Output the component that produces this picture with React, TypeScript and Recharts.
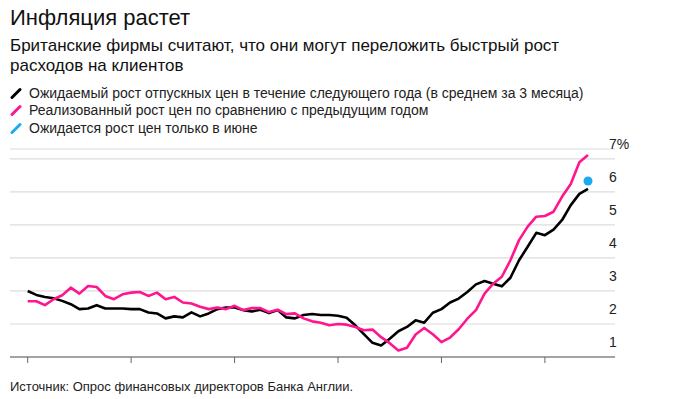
import { LineChart, Line, XAxis, YAxis, CartesianGrid } from 'recharts';

// месяцы: янв 2017 - июн 2022
const months = [
    '2017-01', '2017-02', '2017-03', '2017-04', '2017-05', '2017-06', '2017-07', '2017-08', '2017-09', '2017-10', '2017-11', '2017-12',
    '2018-01', '2018-02', '2018-03', '2018-04', '2018-05', '2018-06', '2018-07', '2018-08', '2018-09', '2018-10', '2018-11', '2018-12',
    '2019-01', '2019-02', '2019-03', '2019-04', '2019-05', '2019-06', '2019-07', '2019-08', '2019-09', '2019-10', '2019-11', '2019-12',
    '2020-01', '2020-02', '2020-03', '2020-04', '2020-05', '2020-06', '2020-07', '2020-08', '2020-09', '2020-10', '2020-11', '2020-12',
    '2021-01', '2021-02', '2021-03', '2021-04', '2021-05', '2021-06', '2021-07', '2021-08', '2021-09', '2021-10', '2021-11', '2021-12',
    '2022-01', '2022-02', '2022-03', '2022-04', '2022-05', '2022-06',
];

// ожидаемый рост цен (в среднем за 3 месяца)
const expected = [
    3.0, 2.88, 2.82, 2.78, 2.7, 2.6, 2.45, 2.47, 2.57, 2.47, 2.47, 2.47,
    2.45, 2.45, 2.35, 2.32, 2.17, 2.23, 2.2, 2.35, 2.23, 2.32, 2.45, 2.5,
    2.5, 2.42, 2.38, 2.43, 2.33, 2.42, 2.2, 2.17, 2.27, 2.3, 2.27, 2.27,
    2.25, 2.19, 1.96, 1.69, 1.43, 1.35, 1.55, 1.78, 1.91, 2.11, 2.04, 2.34,
    2.45, 2.65, 2.77, 2.97, 3.2, 3.3, 3.22, 3.14, 3.4, 3.93, 4.34, 4.76,
    4.69, 4.86, 5.15, 5.6, 5.94, 6.09,
];

// реализованный рост цен
const realized = [
    2.69, 2.69, 2.57, 2.75, 2.87, 3.1, 2.92, 3.15, 3.12, 2.85, 2.75, 2.9,
    2.95, 2.97, 2.85, 2.95, 2.75, 2.82, 2.65, 2.62, 2.52, 2.45, 2.5, 2.45,
    2.55, 2.42, 2.48, 2.48, 2.36, 2.43, 2.3, 2.32, 2.17, 2.08, 2.04, 1.96,
    2.0, 1.98, 1.91, 1.81, 1.83, 1.6, 1.42, 1.2, 1.28, 1.68, 1.88, 1.69,
    1.45, 1.59, 1.84, 2.16, 2.42, 2.92, 3.22, 3.43, 3.93, 4.54, 4.95, 5.25,
    5.27, 5.4, 5.86, 6.24, 6.9, 7.12,
];

const juneMonth = '2022-06';
const juneValue = 6.33;

const yearTicks = ['2017-01', '2018-01', '2019-01', '2020-01', '2021-01', '2022-01'];
const yTicks = [1, 2, 3, 4, 5, 6, 7];

const legendItems = [
    { label: 'Ожидаемый рост отпускных цен в течение следующего года (в среднем за 3 месяца)', color: '#000000' },
    { label: 'Реализованный рост цен по сравнению с предыдущим годом', color: '#ff168e' },
    { label: 'Ожидается рост цен только в июне', color: '#1aa9f2' },
];

const data = months.map((m, i) => ({
    month: m,
    expected: expected[i],
    realized: realized[i],
    june: m === juneMonth ? juneValue : null,
}));

const FONT = 'Arial, "Liberation Sans", sans-serif';

function YTick({ x = 0, y = 0, payload }: { x?: number; y?: number; payload?: { value: number } }) {
    const v = payload?.value ?? 0;
    return (
        <text x={x} y={y} dx={-6} dy={-10} textAnchor="start" style={{ fontSize: 14, fill: '#222', fontFamily: FONT }}>
            {v === 7 ? '7%' : v}
        </text>
    );
}

function LegendMark({ color }: { color: string }) {
    return (
        <svg width={12} height={12} style={{ marginRight: 7, flexShrink: 0 }}>
            <line x1={2} y1={10.5} x2={10} y2={2.5} stroke={color} strokeWidth={3} strokeLinecap="round" />
        </svg>
    );
}

export default function App() {
    return (
        <div style={{ position: 'absolute', left: 0, top: 0, width: 675, height: 399, background: '#fff', fontFamily: FONT }}>
            <div style={{ position: 'absolute', left: 10, top: 5, fontSize: 22, color: '#111', whiteSpace: 'nowrap' }}>
                Инфляция растет
            </div>
            <div style={{ position: 'absolute', left: 10, top: 35.5, fontSize: 17, lineHeight: '20.5px', color: '#111', width: 620 }}>
                Британские фирмы считают, что они могут переложить быстрый рост
                <br />
                расходов на клиентов
            </div>
            <div style={{ position: 'absolute', left: 10, top: 84, fontSize: 14, color: '#222' }}>
                {legendItems.map((it) => (
                    <div key={it.label} style={{ display: 'flex', alignItems: 'center', height: 17.5, whiteSpace: 'nowrap' }}>
                        <LegendMark color={it.color} />
                        {it.label}
                    </div>
                ))}
            </div>

            <div style={{ position: 'absolute', left: 0, top: 0 }}>
                <LineChart width={675} height={399} data={data} margin={{ top: 149, right: 0, bottom: 32, left: 10 }}>
                    <CartesianGrid vertical={false} stroke="#dcdcdc" strokeWidth={1.2} />
                    <XAxis
                        dataKey="month"
                        ticks={yearTicks}
                        tickFormatter={() => ''}
                        height={10}
                        padding={{ left: 17.7, right: 27 }}
                        axisLine={{ stroke: '#8a8a8a', strokeWidth: 1.5 }}
                        tickLine={{ stroke: '#666' }}
                        tickSize={6}
                        interval={0}
                    />
                    <YAxis
                        orientation="right"
                        width={60}
                        domain={[1, 7.3]}
                        ticks={yTicks}
                        axisLine={false}
                        tickLine={false}
                        tickSize={0}
                        tickMargin={0}
                        tick={<YTick />}
                        allowDataOverflow
                    />
                    <Line
                        type="linear"
                        dataKey="expected"
                        stroke="#000"
                        strokeWidth={2.6}
                        dot={false}
                        strokeLinejoin="round"
                        isAnimationActive={false}
                    />
                    <Line
                        type="linear"
                        dataKey="realized"
                        stroke="#ff168e"
                        strokeWidth={2.6}
                        dot={false}
                        strokeLinejoin="round"
                        isAnimationActive={false}
                    />
                    <Line
                        dataKey="june"
                        stroke="none"
                        dot={{ r: 4.5, fill: '#1aa9f2', stroke: 'none' }}
                        isAnimationActive={false}
                    />
                </LineChart>
            </div>

            <div style={{ position: 'absolute', left: 10, top: 379, fontSize: 13, color: '#222', whiteSpace: 'nowrap' }}>
                Источник: Опрос финансовых директоров Банка Англии.
            </div>
        </div>
    );
}
